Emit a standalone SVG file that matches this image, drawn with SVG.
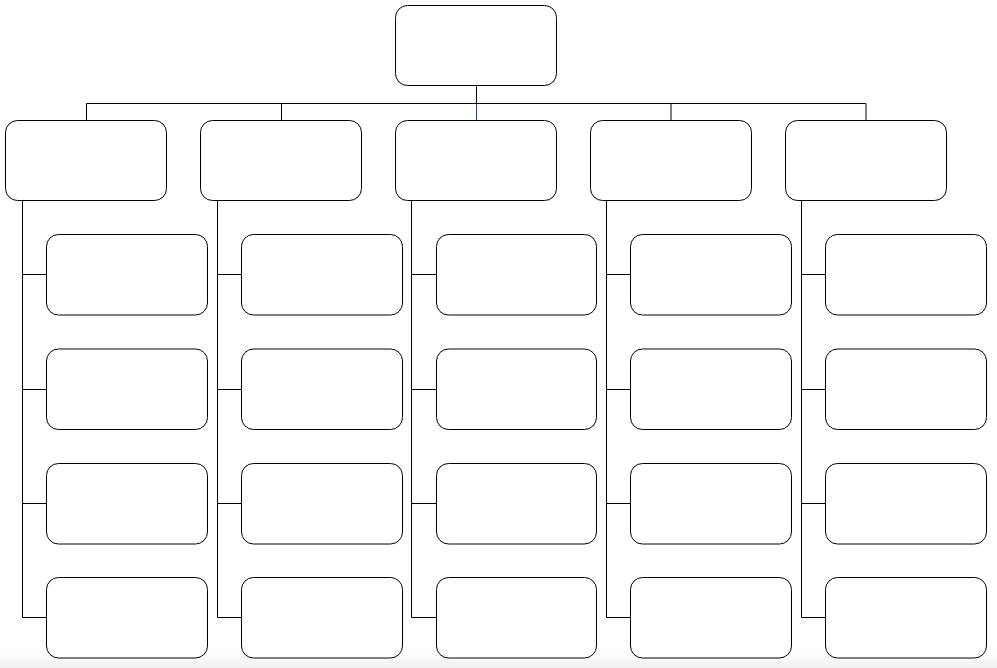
<svg xmlns="http://www.w3.org/2000/svg" width="997" height="668" viewBox="0 0 997 668">
<defs>
<style>
.box{fill:#fff;stroke:#000;stroke-width:1}
.ln{fill:none;stroke:#000;stroke-width:1}
.blue{fill:none;stroke:#1a3a9e;stroke-width:1}
</style>
<linearGradient id="bg" x1="0" y1="0" x2="0" y2="1">
<stop offset="0" stop-color="#ffffff"/>
<stop offset="1" stop-color="#efefef"/>
</linearGradient>
</defs>
<rect x="0" y="0" width="997" height="668" fill="#fff"/>
<rect x="0" y="652" width="997" height="16" fill="url(#bg)"/>
<g id="connectors">
<path class="ln" d="M476.5 85.5V103.5M86.5 103.5H866M86.5 103.5V120.5M281.5 103.5V120.5M671 103.5V120.5M866 103.5V120.5"/>
<path class="blue" d="M476.5 103.5V120.5"/>
<path class="ln" d="M22.5 200.5V617.5M22.5 274.5H46.5M22.5 389.5H46.5M22.5 503.5H46.5M22.5 617.5H46.5"/>
<path class="ln" d="M217.5 200.5V617.5M217.5 274.5H241.5M217.5 389.5H241.5M217.5 503.5H241.5M217.5 617.5H241.5"/>
<path class="ln" d="M411.5 200.5V617.5M411.5 274.5H436.5M411.5 389.5H436.5M411.5 503.5H436.5M411.5 617.5H436.5"/>
<path class="ln" d="M606.5 200.5V617.5M606.5 274.5H630.5M606.5 389.5H630.5M606.5 503.5H630.5M606.5 617.5H630.5"/>
<path class="ln" d="M801.5 200.5V617.5M801.5 274.5H825.5M801.5 389.5H825.5M801.5 503.5H825.5M801.5 617.5H825.5"/>
</g>
<g id="root"><rect class="box" x="395.5" y="5.5" width="161" height="80" rx="12"/></g>
<g id="n1"><rect class="box" x="5.5" y="120.5" width="161" height="80" rx="12"/></g>
<g id="n2"><rect class="box" x="200.5" y="120.5" width="161" height="80" rx="12"/></g>
<g id="n3"><rect class="box" x="395.5" y="120.5" width="161" height="80" rx="12"/></g>
<g id="n4"><rect class="box" x="590.5" y="120.5" width="161" height="80" rx="12"/></g>
<g id="n5"><rect class="box" x="785.5" y="120.5" width="161" height="80" rx="12"/></g>
<g id="n1a"><rect class="box" x="46.5" y="234.5" width="161" height="80.5" rx="12"/></g>
<g id="n1b"><rect class="box" x="46.5" y="349" width="161" height="80.5" rx="12"/></g>
<g id="n1c"><rect class="box" x="46.5" y="463.5" width="161" height="80.5" rx="12"/></g>
<g id="n1d"><rect class="box" x="46.5" y="577.5" width="161" height="80.5" rx="12"/></g>
<g id="n2a"><rect class="box" x="241.5" y="234.5" width="161" height="80.5" rx="12"/></g>
<g id="n2b"><rect class="box" x="241.5" y="349" width="161" height="80.5" rx="12"/></g>
<g id="n2c"><rect class="box" x="241.5" y="463.5" width="161" height="80.5" rx="12"/></g>
<g id="n2d"><rect class="box" x="241.5" y="577.5" width="161" height="80.5" rx="12"/></g>
<g id="n3a"><rect class="box" x="436.5" y="234.5" width="160" height="80.5" rx="12"/></g>
<g id="n3b"><rect class="box" x="436.5" y="349" width="160" height="80.5" rx="12"/></g>
<g id="n3c"><rect class="box" x="436.5" y="463.5" width="160" height="80.5" rx="12"/></g>
<g id="n3d"><rect class="box" x="436.5" y="577.5" width="160" height="80.5" rx="12"/></g>
<g id="n4a"><rect class="box" x="630.5" y="234.5" width="161" height="80.5" rx="12"/></g>
<g id="n4b"><rect class="box" x="630.5" y="349" width="161" height="80.5" rx="12"/></g>
<g id="n4c"><rect class="box" x="630.5" y="463.5" width="161" height="80.5" rx="12"/></g>
<g id="n4d"><rect class="box" x="630.5" y="577.5" width="161" height="80.5" rx="12"/></g>
<g id="n5a"><rect class="box" x="825.5" y="234.5" width="161" height="80.5" rx="12"/></g>
<g id="n5b"><rect class="box" x="825.5" y="349" width="161" height="80.5" rx="12"/></g>
<g id="n5c"><rect class="box" x="825.5" y="463.5" width="161" height="80.5" rx="12"/></g>
<g id="n5d"><rect class="box" x="825.5" y="577.5" width="161" height="80.5" rx="12"/></g>
</svg>
